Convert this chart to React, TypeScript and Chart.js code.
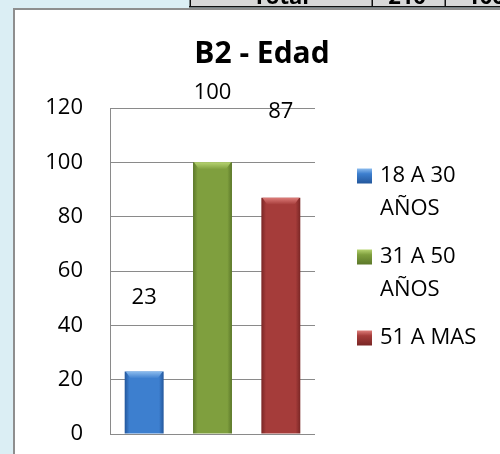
import React, { useEffect, useRef } from "react";
import { Chart, registerables } from "chart.js";

Chart.register(...registerables);

// ---- data ----
const categories = ["18 A 30 AÑOS", "31 A 50 AÑOS", "51 A MAS"];
const values = [23, 100, 87];
const yMin = 0;
const yMax = 120;
const yStep = 20;
const chartTitle = "B2 - Edad";
const tableHeader = ["Total", "210", "100"];

// ---- styles / layout ----
const FONT = "'Open Sans', 'Noto Sans', sans-serif";
const PAGE_BG = "#dbeef4";
const GRID = "#8a8a8a";
const BAR_COLORS = [
  { base: "#3d7fcf", dark: "#23579c", light: "#8cbcee" },
  { base: "#7f9f3e", dark: "#5b7729", light: "#b6d370" },
  { base: "#a53c3a", dark: "#792625", light: "#de7d7a" },
];
const LABEL_OFFSETS = [74, 70, 86];

const frameAndTitle = {
  id: "frameAndTitle",
  beforeDraw(chart: any) {
    const { ctx, width, height } = chart;
    ctx.save();
    ctx.fillStyle = PAGE_BG;
    ctx.fillRect(0, 0, width, height);
    // table fragment at top
    ctx.fillStyle = "#d8d8d8";
    ctx.fillRect(190, 0, width - 190, 7);
    ctx.fillStyle = "#111";
    ctx.fillRect(189, 6, width - 189, 1.5);
    [189.5, 371.5, 444.5].forEach((x) => ctx.fillRect(x, 0, 1.5, 7));
    ctx.save();
    ctx.beginPath();
    ctx.rect(190, 0, width - 190, 6);
    ctx.clip();
    ctx.font = `bold 22px ${FONT}`;
    ctx.textAlign = "center";
    ctx.textBaseline = "alphabetic";
    ctx.fillStyle = "#000";
    ctx.fillText(tableHeader[0], 281, 4);
    ctx.fillText(tableHeader[1], 407, 4);
    ctx.fillText(tableHeader[2], 486, 4);
    ctx.restore();
    // chart frame
    ctx.fillStyle = "#ffffff";
    ctx.fillRect(15, 10, width - 15, height - 10);
    ctx.fillStyle = "#8e8e8e";
    ctx.fillRect(13, 8, width - 13, 2);
    ctx.fillRect(13, 8, 2, height - 8);
    ctx.restore();
  },
  afterDraw(chart: any) {
    const { ctx } = chart;
    ctx.save();
    ctx.font = `bold 30px ${FONT}`;
    ctx.fillStyle = "#000";
    ctx.textAlign = "center";
    ctx.textBaseline = "alphabetic";
    ctx.fillText(chartTitle, 262, 63);
    ctx.restore();
  },
};

const barDecor = {
  id: "barDecor",
  afterDatasetsDraw(chart: any) {
    const { ctx } = chart;
    const meta = chart.getDatasetMeta(0);
    ctx.save();
    meta.data.forEach((el: any, i: number) => {
      const c = BAR_COLORS[i % BAR_COLORS.length];
      const half = el.width / 2;
      const left = el.x - half;
      const right = el.x + half;
      const top = el.y;
      ctx.beginPath();
      ctx.moveTo(left + 1, top);
      ctx.lineTo(right - 1, top);
      ctx.lineTo(right - 6, top + 7);
      ctx.lineTo(left + 6, top + 7);
      ctx.closePath();
      const g = ctx.createLinearGradient(0, top, 0, top + 7);
      g.addColorStop(0, c.light);
      g.addColorStop(1, c.base);
      ctx.fillStyle = g;
      ctx.fill();
      ctx.font = `22px ${FONT}`;
      ctx.fillStyle = "#000";
      ctx.textAlign = "center";
      ctx.textBaseline = "middle";
      ctx.fillText(String(values[i]), el.x, el.y - LABEL_OFFSETS[i]);
    });
    ctx.restore();
  },
};

const customLegend = {
  id: "customLegend",
  afterDraw(chart: any) {
    const { ctx, chartArea } = chart;
    const labels: string[] = chart.data.labels;
    ctx.save();
    ctx.font = `22px ${FONT}`;
    ctx.textAlign = "left";
    ctx.textBaseline = "middle";
    const boxX = chartArea.right + 42;
    const textX = chartArea.right + 65;
    const maxW = 110;
    const lineH = 33;
    let y = chartArea.top + 68;
    labels.forEach((label, i) => {
      const words = label.split(" ");
      const lines: string[] = [];
      let cur = "";
      words.forEach((w) => {
        const t = cur ? cur + " " + w : w;
        if (ctx.measureText(t).width > maxW && cur) {
          lines.push(cur);
          cur = w;
        } else cur = t;
      });
      if (cur) lines.push(cur);
      const c = BAR_COLORS[i % BAR_COLORS.length];
      const g = ctx.createLinearGradient(0, y - 7.5, 0, y + 7.5);
      g.addColorStop(0, c.light);
      g.addColorStop(0.35, c.base);
      g.addColorStop(1, c.dark);
      ctx.fillStyle = g;
      ctx.fillRect(boxX, y - 7.5, 15, 15);
      ctx.fillStyle = "#000";
      lines.forEach((ln, j) => ctx.fillText(ln, textX, y + j * lineH));
      y += (lines.length - 1) * lineH + 48;
    });
    ctx.restore();
  },
};

export default function App() {
  const ref = useRef<HTMLCanvasElement | null>(null);
  useEffect(() => {
    if (!ref.current) return;
    const chart = new Chart(ref.current, {
      type: "bar",
      data: {
        labels: categories,
        datasets: [
          {
            data: values,
            barPercentage: 0.57,
            categoryPercentage: 1,
            backgroundColor: (ctx: any) => {
              const c = BAR_COLORS[ctx.dataIndex % BAR_COLORS.length];
              const chart = ctx.chart;
              const xs = chart.scales && chart.scales.x;
              if (!chart.chartArea || !xs) return c.base;
              const cx = xs.getPixelForValue(ctx.dataIndex);
              const w = (chart.chartArea.width / categories.length) * 0.57;
              const g = chart.ctx.createLinearGradient(cx - w / 2, 0, cx + w / 2, 0);
              g.addColorStop(0, c.dark);
              g.addColorStop(0.12, c.base);
              g.addColorStop(0.5, c.base);
              g.addColorStop(0.88, c.base);
              g.addColorStop(1, c.dark);
              return g;
            },
            borderWidth: 0,
          },
        ],
      },
      options: {
        responsive: false,
        animation: false,
        layout: { padding: { left: 0, right: 185, top: 108, bottom: 20 } },
        plugins: {
          legend: { display: false },
          title: { display: false },
          tooltip: { enabled: false },
        },
        scales: {
          x: { display: false },
          y: {
            min: yMin,
            max: yMax,
            afterFit: (scale: any) => {
              scale.width = 110;
            },
            ticks: {
              stepSize: yStep,
              padding: 0,
              color: "#000",
              font: { family: FONT, size: 22 },
            },
            grid: {
              color: GRID,
              lineWidth: 1,
              drawTicks: true,
              tickLength: 27,
              tickColor: "rgba(0,0,0,0)",
            },
            border: { display: true, color: GRID, width: 1 },
          },
        },
      },
      plugins: [frameAndTitle, barDecor, customLegend],
    });
    return () => chart.destroy();
  }, []);
  return (
    <div style={{ position: "fixed", left: 0, top: 0, width: 500, height: 454 }}>
      <canvas ref={ref} width={500} height={454} />
    </div>
  );
}
